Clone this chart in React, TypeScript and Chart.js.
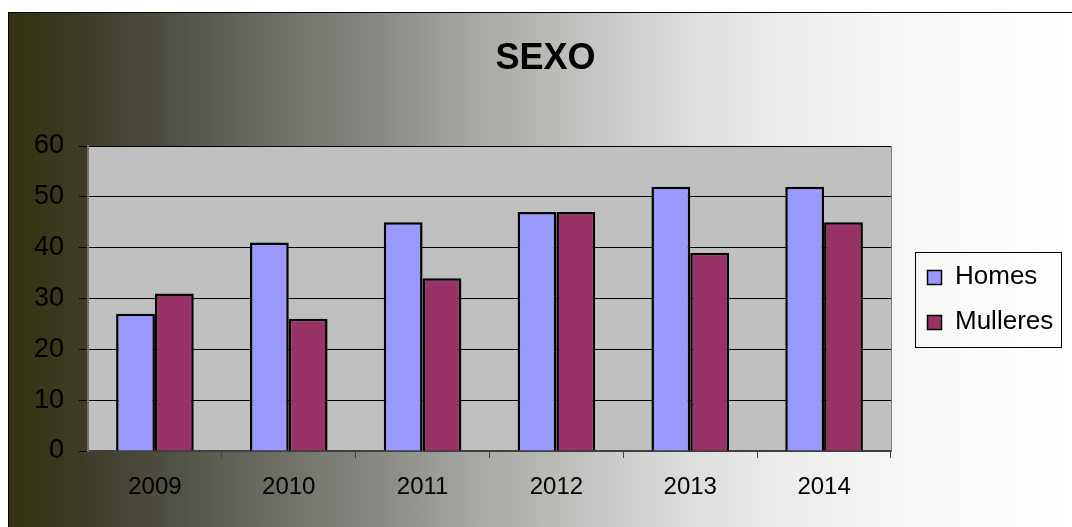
import React, { useEffect, useRef } from "react";
import { Chart, registerables } from "chart.js";
Chart.register(...registerables);

const categories = ["2009", "2010", "2011", "2012", "2013", "2014"];
const homes = [27, 41, 45, 47, 52, 52];
const mulleres = [31, 26, 34, 47, 39, 45];
const seriesLabels = ["Homes", "Mulleres"];
const seriesColors = ["#9999ff", "#993366"];
const yTicks = [0, 10, 20, 30, 40, 50, 60];
const chartTitle = "SEXO";

const FONT = '"Liberation Sans", Arial, Helvetica, sans-serif';
const W = 1063;
const H = 514;

const decor = {
  id: "decor",
  beforeDraw(chart: any) {
    const { ctx, chartArea: a } = chart;
    ctx.save();
    ctx.fillStyle = "#c0c0c0";
    ctx.fillRect(a.left, a.top, a.right - a.left, a.bottom - a.top);
    ctx.restore();
  },
  afterDraw(chart: any) {
    const { ctx, chartArea: a } = chart;
    ctx.save();
    ctx.strokeStyle = "#808080";
    ctx.lineWidth = 1;
    ctx.beginPath();
    ctx.moveTo(a.right + 0.5, a.top);
    ctx.lineTo(a.right + 0.5, a.bottom);
    ctx.stroke();

    // title
    ctx.fillStyle = "#000";
    ctx.font = `bold 36px ${FONT}`;
    ctx.textAlign = "center";
    ctx.textBaseline = "alphabetic";
    ctx.fillText(chartTitle, 536.5, 56);

    // legend
    ctx.strokeStyle = "#000";
    ctx.lineWidth = 1;
    ctx.strokeRect(906.5, 239.5, 146, 95);
    ctx.font = `26px ${FONT}`;
    ctx.textAlign = "left";
    chart.data.datasets.forEach((ds: any, i: number) => {
      const sy = 257 + i * 45;
      ctx.fillStyle = ds.backgroundColor;
      ctx.fillRect(918, sy, 15, 15);
      ctx.lineWidth = 1.5;
      ctx.strokeStyle = "#000";
      ctx.strokeRect(918.5, sy + 0.5, 14, 14);
      ctx.fillStyle = "#000";
      ctx.fillText(ds.label, 946, 271 + i * 45);
    });
    ctx.restore();
  },
};

export default function App() {
  const ref = useRef<HTMLCanvasElement | null>(null);
  useEffect(() => {
    if (!ref.current) return;
    const chart = new Chart(ref.current, {
      type: "bar",
      data: {
        labels: categories,
        datasets: [
          {
            label: seriesLabels[0],
            data: homes,
            backgroundColor: seriesColors[0],
            borderColor: "#000",
            borderWidth: 2.5,
            categoryPercentage: 0.58,
            barPercentage: 1,
          },
          {
            label: seriesLabels[1],
            data: mulleres,
            backgroundColor: seriesColors[1],
            borderColor: "#000",
            borderWidth: 2.5,
            categoryPercentage: 0.58,
            barPercentage: 1,
          },
        ],
      },
      options: {
        responsive: false,
        animation: false,
        events: [],
        layout: { padding: { top: 133, right: 181, left: 0, bottom: 0 } },
        plugins: {
          legend: { display: false },
          title: { display: false },
          tooltip: { enabled: false },
        },
        scales: {
          x: {
            afterFit: (s: any) => {
              s.height = 76;
            },
            grid: {
              display: true,
              drawOnChartArea: false,
              drawTicks: true,
              tickLength: 7,
              color: "#404040",
              offset: true,
            },
            border: { display: true, color: "#404040", width: 2 },
            ticks: {
              color: "#000",
              padding: 15,
              font: { family: FONT, size: 24 },
              maxRotation: 0,
            },
          },
          y: {
            min: yTicks[0],
            max: yTicks[yTicks.length - 1],
            afterFit: (s: any) => {
              s.width = 79;
            },
            grid: {
              color: "#000",
              lineWidth: 1,
              drawTicks: true,
              tickLength: 9,
            },
            border: { display: true, color: "#707070", width: 2 },
            ticks: {
              stepSize: yTicks[1] - yTicks[0],
              color: "#000",
              padding: 15,
              font: { family: FONT, size: 27 },
            },
          },
        },
      },
      plugins: [decor],
    });
    return () => chart.destroy();
  }, []);

  return (
    <div
      style={{
        position: "absolute",
        left: 8,
        top: 12,
        width: 1064,
        height: 515,
        boxSizing: "border-box",
        borderTop: "1px solid #000",
        borderLeft: "1px solid #000",
        background:
          "linear-gradient(to right, #333310 0%, #3c3a22 6%, #4f4f42 15%, #6e6e66 25%, #8a8a85 35%, #a8a8a4 44%, #b4b4b0 49%, #cbcbc9 57%, #dfdfdd 65%, #ececea 73%, #f5f5f3 82%, #fbfbfa 91%, #ffffff 100%)",
        overflow: "hidden",
      }}
    >
      <canvas ref={ref} width={W} height={H} style={{ display: "block" }} />
    </div>
  );
}
